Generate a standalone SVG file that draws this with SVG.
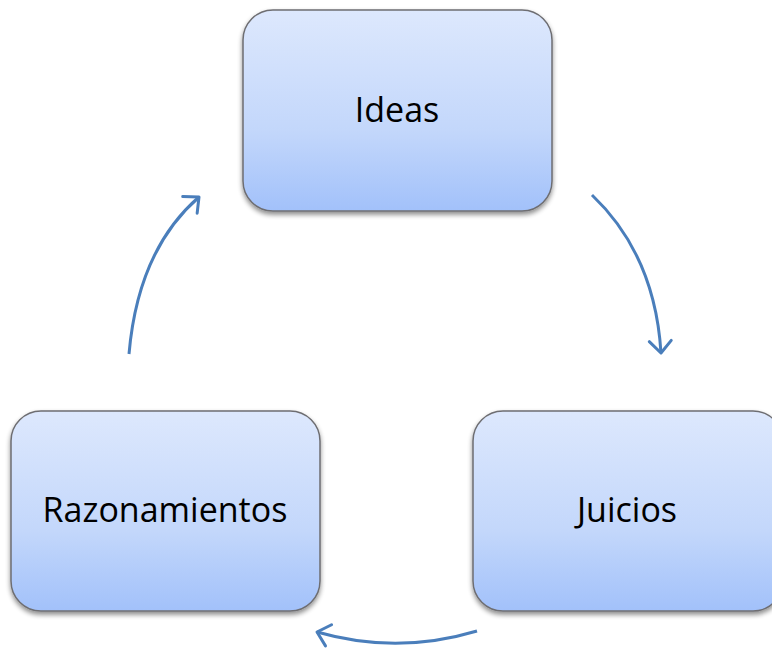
<svg xmlns="http://www.w3.org/2000/svg" width="772" height="648" viewBox="0 0 772 648">
<style>
.box{fill:url(#g);stroke:#6e6e72;stroke-width:1.5;filter:url(#sh)}
.lbl{font-family:"Open Sans","Liberation Sans",sans-serif;font-size:34px;fill:#000;text-anchor:middle}
.con{fill:none;stroke:#4a7ebb;stroke-width:3;marker-end:url(#ah)}
</style>
<defs>
<linearGradient id="g" x1="0" y1="0" x2="0" y2="1">
<stop offset="0" stop-color="#dde8fd"/>
<stop offset="0.6" stop-color="#c3d7fb"/>
<stop offset="1" stop-color="#a2c1fa"/>
</linearGradient>
<filter id="sh" x="-10%" y="-10%" width="120%" height="125%">
<feGaussianBlur in="SourceAlpha" stdDeviation="2.5"/>
<feOffset dx="0" dy="3" result="b"/>
<feComponentTransfer><feFuncA type="linear" slope="0.45"/></feComponentTransfer>
<feMerge><feMergeNode/><feMergeNode in="SourceGraphic"/></feMerge>
</filter>
<marker id="ah" markerUnits="userSpaceOnUse" markerWidth="32" markerHeight="32" refX="16" refY="16" orient="auto">
<path d="M4,5 L16,16 L4,27" fill="none" stroke="#4a7ebb" stroke-width="3" stroke-linecap="round" stroke-linejoin="round"/>
</marker>
</defs>
<g id="connectors">
<path class="con" d="M592,195 Q655,255 661,353"/>
<path class="con" d="M477,631 Q397,655 317,632"/>
<path class="con" d="M129,354 Q138,250 199,197"/>
</g>
<g id="ideas">
<rect class="box" x="243" y="10" width="309" height="201" rx="30"/>
<text class="lbl" x="397" y="122">Ideas</text>
</g>
<g id="juicios">
<rect class="box" x="473" y="411" width="310" height="200" rx="30"/>
<text class="lbl" x="627" y="522">Juicios</text>
</g>
<g id="razonamientos">
<rect class="box" x="11" y="411" width="309" height="200" rx="30"/>
<text class="lbl" x="165" y="522">Razonamientos</text>
</g>
</svg>
